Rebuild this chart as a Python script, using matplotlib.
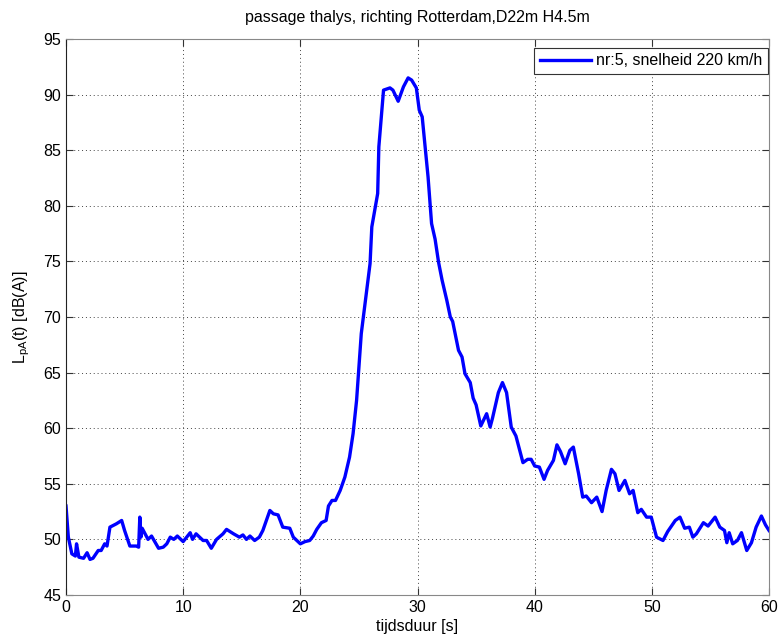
import numpy as np
import matplotlib
matplotlib.use('Agg')
import matplotlib.pyplot as plt

plt.rcParams['font.family'] = ['Liberation Sans', 'DejaVu Sans']
plt.rcParams['mathtext.default'] = 'regular'

# tijd [s] en niveau [dB(A)]
tijd = [0.0, 0.2, 0.5, 0.8, 0.9, 1.1, 1.5, 1.8, 2.05, 2.3, 2.75, 3.0, 3.3, 3.5,
        3.75, 4.3, 4.75, 5.0, 5.45, 6.0, 6.2, 6.3, 6.4, 6.5, 7.0, 7.3, 7.9,
        8.3, 8.6, 8.9, 9.2, 9.5, 10.0, 10.6, 10.8, 11.1, 11.7, 12.0, 12.4,
        12.85, 13.4, 13.7, 14.3, 14.8, 15.1, 15.4, 15.7, 16.1, 16.5, 16.8,
        17.1, 17.4, 17.7, 18.1, 18.5, 19.1, 19.4, 20.0, 20.4, 20.8, 21.1,
        21.4, 21.8, 22.2, 22.4, 22.7, 23.0, 23.4, 23.8, 24.2, 24.5, 24.8,
        25.0, 25.2, 25.5, 25.8, 25.95, 26.1, 26.4, 26.6, 26.7, 26.95, 27.1,
        27.65, 27.9, 28.35, 28.8, 29.2, 29.5, 29.9, 30.15, 30.4, 30.65, 30.9,
        31.2, 31.5, 31.8, 32.1, 32.5, 32.8, 33.0, 33.5, 33.8, 34.05, 34.5,
        34.75, 35.0, 35.4, 35.9, 36.2, 36.4, 36.9, 37.25, 37.6, 38.0, 38.4,
        39.0, 39.4, 39.7, 40.0, 40.4, 40.8, 41.1, 41.6, 41.9, 42.2, 42.6,
        43.0, 43.3, 43.75, 44.1, 44.4, 44.85, 45.3, 45.75, 46.1, 46.55, 46.85,
        47.2, 47.7, 48.1, 48.4, 48.8, 49.1, 49.55, 49.95, 50.4, 50.95, 51.35,
        52.0, 52.4, 52.8, 53.2, 53.5, 53.8, 54.4, 54.8, 55.4, 55.8, 56.2,
        56.4, 56.6, 56.9, 57.3, 57.65, 58.1, 58.5, 58.9, 59.35, 59.7, 60.0]
niveau = [53.0, 50.2, 48.7, 48.5, 49.6, 48.4, 48.3, 48.8, 48.2, 48.3, 49.0, 49.0, 49.6, 49.4,
          51.1, 51.4, 51.7, 50.8, 49.4, 49.4, 49.3, 52.0, 50.2, 51.0, 50.0, 50.3, 49.2,
          49.3, 49.6, 50.2, 50.0, 50.3, 49.8, 50.6, 50.0, 50.5, 49.9, 49.9, 49.2,
          50.0, 50.5, 50.9, 50.5, 50.2, 50.4, 50.0, 50.3, 49.9, 50.2, 50.8,
          51.7, 52.6, 52.3, 52.2, 51.1, 51.0, 50.2, 49.6, 49.8, 49.9, 50.3,
          50.9, 51.5, 51.7, 53.0, 53.5, 53.5, 54.4, 55.6, 57.4, 59.5, 62.5,
          65.5, 68.5, 71.0, 73.5, 74.8, 78.1, 79.9, 81.1, 85.3, 88.5, 90.4,
          90.6, 90.4, 89.4, 90.7, 91.5, 91.3, 90.6, 88.6, 88.0, 85.3, 82.6,
          78.4, 77.0, 74.9, 73.3, 71.5, 70.0, 69.6, 67.0, 66.4, 64.9, 64.1,
          62.7, 62.1, 60.2, 61.3, 60.1, 60.9, 63.2, 64.1, 63.2, 60.1, 59.3,
          56.9, 57.2, 57.2, 56.6, 56.5, 55.4, 56.2, 57.1, 58.5, 57.9, 56.8,
          58.0, 58.3, 55.9, 53.8, 53.9, 53.3, 53.8, 52.5, 54.4, 56.3, 55.9,
          54.4, 55.3, 54.1, 54.4, 52.4, 52.7, 52.0, 52.0, 50.2, 49.9, 50.7,
          51.7, 52.0, 51.0, 51.1, 50.2, 50.5, 51.5, 51.2, 52.0, 51.1, 50.8,
          49.7, 50.6, 49.6, 49.9, 50.6, 49.0, 49.7, 51.1, 52.1, 51.3, 50.8]

xticks = [0, 10, 20, 30, 40, 50, 60]
yticks = [45, 50, 55, 60, 65, 70, 75, 80, 85, 90, 95]

fig = plt.figure(figsize=(7.82, 6.41), dpi=100)
ax = fig.add_axes([0.0844, 0.0718, 0.899, 0.8674])

ax.plot(tijd, niveau, color=(0, 0, 1), linewidth=2.4, label='nr:5, snelheid 220 km/h')

ax.set_xlim(0, 60)
ax.set_ylim(45, 95)
ax.set_xticks(xticks)
ax.set_yticks(yticks)
ax.grid(True, color='#444444', linestyle=(0, (1, 3)), linewidth=0.7)
ax.tick_params(direction='in', length=5, top=True, right=True, labelsize=11.5,
               color='#333333')
for s in ax.spines.values():
    s.set_color('#888888')
ax.spines['left'].set_color('#222222')

ax.set_title('passage thalys, richting Rotterdam,D22m H4.5m', fontsize=11.5, pad=12)
ax.set_xlabel('tijdsduur [s]', fontsize=11.5, labelpad=3)
ax.set_ylabel(r'L$_{pA}$(t) [dB(A)]', fontsize=11.5, labelpad=8)

leg = ax.legend(loc='upper right', bbox_to_anchor=(0.998, 0.984), borderaxespad=0,
                fancybox=False, framealpha=1, edgecolor='#333333', fontsize=11.5,
                handlelength=3.2, handletextpad=0.3, borderpad=0.35)
leg.get_frame().set_linewidth(0.8)

fig.savefig('out.png', dpi=100)
